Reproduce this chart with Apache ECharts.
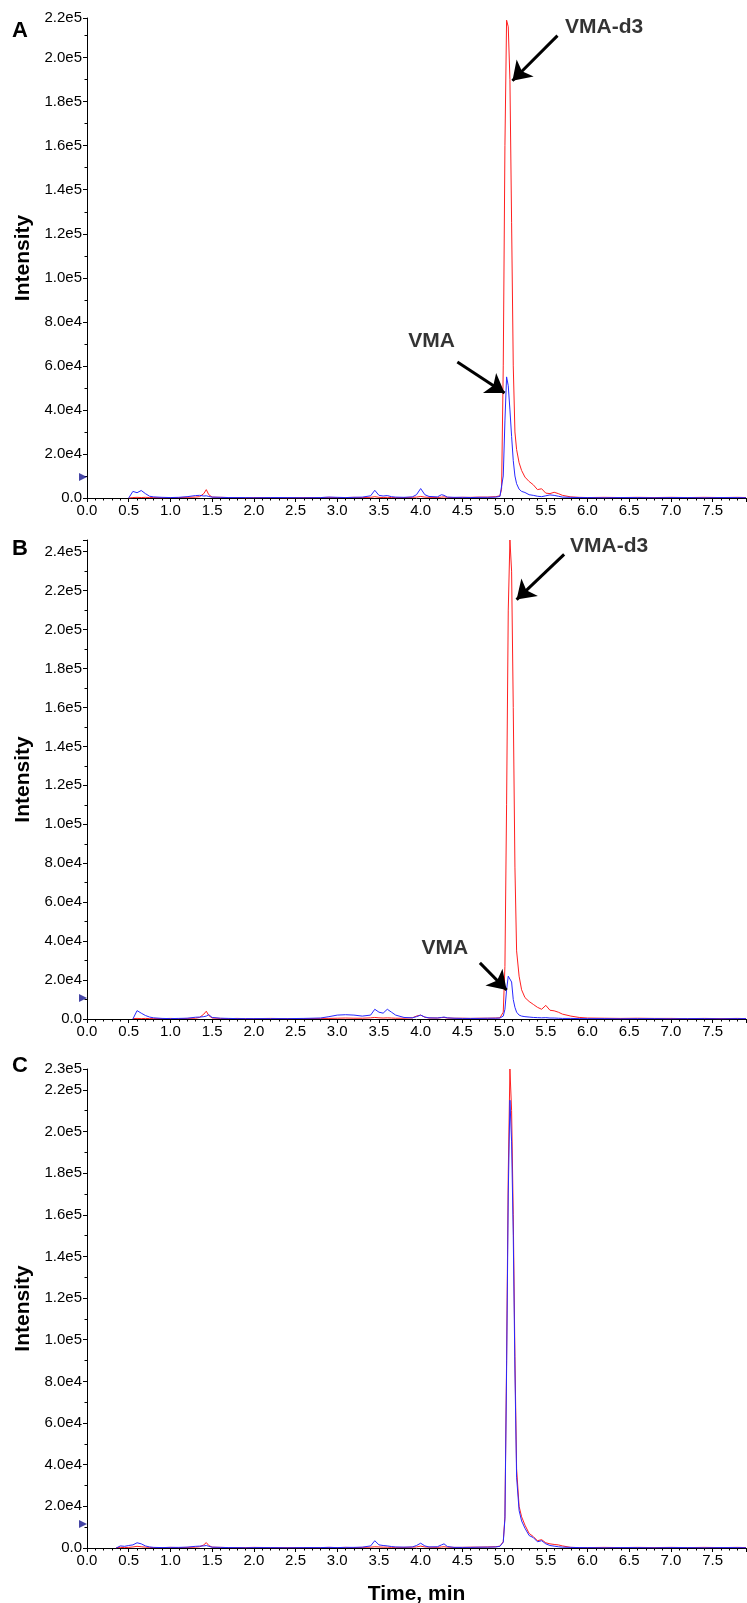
<!DOCTYPE html>
<html><head><meta charset="utf-8">
<script src="https://cdn.jsdelivr.net/npm/echarts@6/dist/echarts.min.js"></script>
<style>html,body{margin:0;padding:0;background:#fff}#c{width:747px;height:1603px}</style>
</head><body><div id="c"></div>
<script>
// Time grid (min)
const times = [0.0,0.1,0.2,0.3,0.35,0.4,0.45,0.5,0.55,0.6,0.65,0.7,0.75,0.8,0.9,1.0,1.1,1.2,1.3,1.35,1.4,1.43,1.46,1.5,1.6,1.7,1.8,1.9,2.0,2.2,2.4,2.6,2.8,2.9,3.0,3.1,3.2,3.3,3.4,3.45,3.5,3.55,3.6,3.65,3.7,3.8,3.9,3.95,4.0,4.05,4.1,4.2,4.25,4.28,4.32,4.4,4.5,4.6,4.7,4.8,4.9,4.95,4.97,4.99,5.01,5.03,5.05,5.07,5.09,5.11,5.13,5.15,5.18,5.21,5.25,5.3,5.35,5.4,5.45,5.5,5.55,5.6,5.65,5.7,5.8,5.9,6.0,6.2,6.4,6.6,6.8,7.0,7.2,7.4,7.6,7.8,7.9];

// Panel A
const redA = [null,null,null,null,null,null,null,0,200,300,200,300,200,200,100,200,200,300,400,600,2000,3800,1500,400,300,200,200,100,200,200,100,200,200,300,200,200,300,200,300,600,300,200,300,200,200,200,300,400,700,400,300,200,400,500,300,200,300,300,400,400,600,1000,4000,60000,160000,217000,214000,190000,125000,60000,30000,22000,16000,12500,9500,7500,6000,3800,4200,2200,2000,2600,2000,1200,500,300,200,300,200,300,200,300,200,300,200,300,200];
const blueA = [null,null,null,null,null,null,null,0,3000,2400,3400,2000,800,500,300,200,300,600,1100,1200,900,1000,700,400,300,200,200,200,100,200,200,100,200,400,300,200,300,400,1000,3500,1200,900,1100,600,400,300,500,1500,4300,1500,700,500,1500,1200,400,300,300,200,300,300,400,700,1500,10000,35000,55000,51000,40000,28000,17000,10000,6500,4000,3000,2500,1500,1200,800,600,1000,1400,1200,800,400,300,200,200,100,200,200,100,200,200,100,200,200,100];

// Panel B
const redB = [null,null,null,null,null,null,null,null,200,300,200,300,200,200,200,300,200,300,400,800,2500,4000,1800,500,300,200,300,200,200,300,200,200,300,300,400,500,400,400,600,800,600,500,600,500,400,400,600,1500,2000,900,500,500,700,800,500,400,400,300,400,400,500,600,800,3500,27000,110000,210000,246000,230000,160000,78000,35000,22000,15000,11000,9000,7500,6000,5000,7000,4500,4200,3500,2500,1500,800,500,400,300,400,300,300,200,300,200,300,200];
const blueB = [null,null,null,null,null,null,null,null,0,4300,3000,1800,1000,600,300,200,300,400,900,1000,1200,1500,2200,800,400,300,200,200,200,200,200,300,500,1200,2000,2200,2000,1500,2000,5000,3500,3000,5000,3500,2000,800,600,1200,2000,1000,600,500,800,1000,600,400,300,300,300,400,400,500,700,1500,5000,15000,22000,23000,19000,10000,6000,3500,2000,1500,1200,1000,800,700,600,700,500,500,400,300,300,200,200,200,100,200,200,100,200,200,100,200,200];

// Panel C
const redC = [null,null,null,null,200,300,200,300,500,800,600,400,300,200,200,300,200,300,400,600,1500,2600,1200,400,300,200,200,200,300,200,200,200,200,300,200,300,200,300,400,600,500,400,400,300,300,300,400,500,900,500,400,300,500,600,400,300,300,400,400,500,600,900,1500,3000,15000,90000,180000,230000,210000,160000,92000,38000,20000,15000,11000,7000,5500,3500,4000,2500,2000,1700,1500,1000,300,200,200,300,200,300,200,300,200,300,200,300,200];
const blueC = [null,null,null,null,0,1000,800,1200,1500,2500,2000,1000,500,300,200,300,300,400,800,900,1000,1200,800,400,300,200,200,100,200,200,100,200,200,300,200,300,300,400,1000,3500,1500,1200,1000,700,500,400,500,1200,2300,1000,500,600,1500,2000,700,300,300,300,400,400,500,800,1400,2800,14000,85000,170000,215000,195000,150000,85000,34000,18000,13000,9500,6000,5000,3000,3500,2000,1200,900,600,400,300,200,200,100,200,200,100,200,200,100,200,200,100];

const yMaxes = [218000, 246000, 230000];
const showTopLabel = [true, false, true];
const panelLetters = ['A', 'B', 'C'];
const markerLevels = [9500, 10800, 11500];
const xTickLabels = ['0.0','0.5','1.0','1.5','2.0','2.5','3.0','3.5','4.0','4.5','5.0','5.5','6.0','6.5','7.0','7.5'];

const RED = '#ff2020', BLUE = '#2828ff';
const FONT = 'Liberation Sans, Arial, sans-serif';
const grids = [
  {left: 87, right: 1, top: 18, height: 480},
  {left: 87, right: 1, top: 540, height: 479},
  {left: 87, right: 1, top: 1069, height: 479}
];

function pts(arr) {
  const out = [];
  arr.forEach((v, i) => { if (v !== null) out.push([times[i], v]); });
  return out;
}
function yFmt(p) {
  return function (v) {
    if (v === 0) return '0.0';
    const onGrid = Math.abs(v / 2e4 - Math.round(v / 2e4)) < 1e-6;
    if (!onGrid && !showTopLabel[p]) return '';
    return v.toExponential(1).replace('+', '');
  };
}
function xFmt(v) {
  const k = Math.round(v / 0.5);
  if (Math.abs(v / 0.5 - k) > 1e-6) return '';
  return xTickLabels[k] || '';
}

const xAxes = [], yAxes = [], series = [];
const redData = [redA, redB, redC], blueData = [blueA, blueB, blueC];

for (let p = 0; p < 3; p++) {
  xAxes.push({
    type: 'value', gridIndex: p, min: 0, max: 7.9, interval: 0.5,
    axisLine: {show: true, onZero: false, lineStyle: {color: '#000', width: 1}},
    axisTick: {show: true, length: 4, lineStyle: {color: '#000'}},
    minorTick: {show: true, splitNumber: 5, length: 2.5, lineStyle: {color: '#000'}},
    splitLine: {show: false}, minorSplitLine: {show: false},
    axisLabel: {show: true, formatter: xFmt, fontFamily: FONT, fontSize: 15, color: '#000', margin: 5},
    name: p === 2 ? 'Time, min' : '', nameLocation: 'middle', nameGap: 36,
    nameTextStyle: {fontFamily: FONT, fontSize: 21, fontWeight: 'bold', color: '#000'}
  });
  yAxes.push({
    type: 'value', gridIndex: p, min: 0, max: yMaxes[p], interval: 20000,
    axisLine: {show: true, lineStyle: {color: '#000', width: 1}},
    axisTick: {show: true, length: 4, lineStyle: {color: '#000'}},
    minorTick: {show: true, splitNumber: 2, length: 2.5, lineStyle: {color: '#000'}},
    splitLine: {show: false}, minorSplitLine: {show: false},
    axisLabel: {show: true, formatter: yFmt(p), fontFamily: FONT, fontSize: 15, color: '#000', margin: 5},
    name: 'Intensity', nameLocation: 'middle', nameGap: 52,
    nameTextStyle: {fontFamily: FONT, fontSize: 21, fontWeight: 'bold', color: '#000'}
  });
  series.push({
    type: 'line', xAxisIndex: p, yAxisIndex: p, data: pts(redData[p]),
    showSymbol: false, symbol: 'none', lineStyle: {color: RED, width: 1}, itemStyle: {color: RED},
    silent: true, z: 2
  });
  series.push({
    type: 'line', xAxisIndex: p, yAxisIndex: p, data: pts(blueData[p]),
    showSymbol: false, symbol: 'none', lineStyle: {color: BLUE, width: 1}, itemStyle: {color: BLUE},
    silent: true, z: 3
  });
  series.push({
    type: 'scatter', xAxisIndex: p, yAxisIndex: p, data: [[0, markerLevels[p]]],
    symbol: 'triangle', symbolRotate: -90, symbolSize: 8, symbolOffset: [-4, 0],
    itemStyle: {color: '#16168f'}, clip: false, silent: true, z: 5
  });
}

// Annotations (data coordinates)
const annotations = [
  {p: 0, text: 'VMA-d3', at: [6.2, 214000], from: [5.64, 210000], to: [5.10, 189500]},
  {p: 0, text: 'VMA', at: [4.13, 71000], from: [4.44, 61800], to: [5.006, 47700]},
  {p: 1, text: 'VMA-d3', at: [6.26, 243000], from: [5.72, 238600], to: [5.15, 215400]},
  {p: 1, text: 'VMA', at: [4.29, 36500], from: [4.71, 28800], to: [5.03, 14900]}
];
annotations.forEach(a => {
  series.push({
    type: 'scatter', xAxisIndex: a.p, yAxisIndex: a.p, data: [a.at], symbolSize: 1,
    itemStyle: {color: 'rgba(0,0,0,0)'}, silent: true, clip: false, z: 10,
    label: {show: true, position: 'inside', formatter: a.text, fontFamily: FONT, fontSize: 21, fontWeight: 'bold', color: '#000'}
  });
  series.push({
    type: 'line', xAxisIndex: a.p, yAxisIndex: a.p, data: [], silent: true, z: 10,
    markLine: {
      silent: true, symbol: ['none', 'arrow'], symbolSize: 18,
      lineStyle: {color: '#000', width: 3, type: 'solid', opacity: 1}, label: {show: false},
      emphasis: {disabled: true},
      data: [[{coord: a.from}, {coord: a.to}]]
    }
  });
});

const chart = echarts.init(document.getElementById('c'), null, {renderer: 'canvas', width: 747, height: 1603});
chart.setOption({
  animation: false,
  backgroundColor: '#fff',
  grid: grids.map(g => Object.assign({containLabel: false, outerBoundsMode: 'none'}, g)),
  xAxis: xAxes,
  yAxis: yAxes,
  series: series,
  graphic: panelLetters.map((t, i) => ({
    type: 'text', left: 12, top: [20, 538, 1055][i],
    style: {text: t, fontFamily: FONT, fontSize: 22, fontWeight: 'bold', fill: '#000'}
  }))
});
</script></body></html>
